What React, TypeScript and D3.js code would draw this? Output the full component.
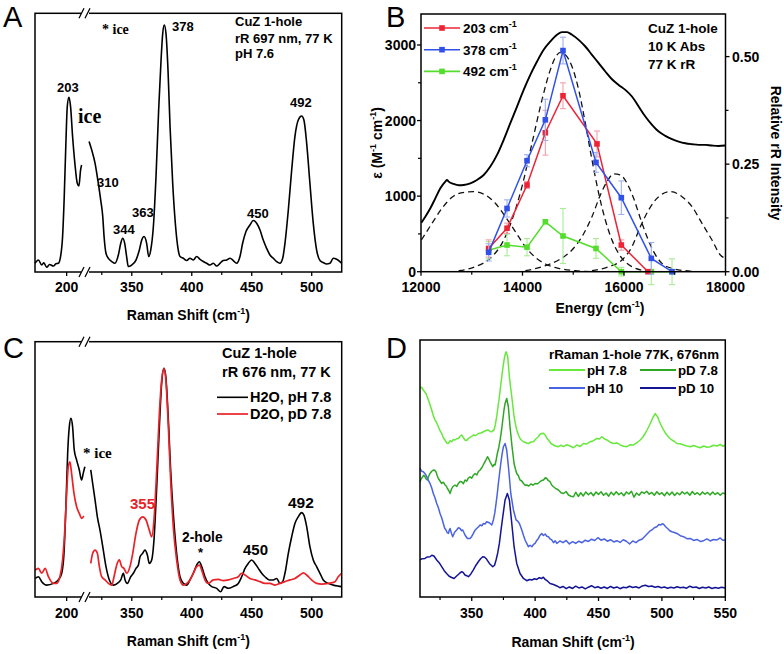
import * as d3 from 'd3'

type Pt = [number, number]

const SANS = '"Liberation Sans", Arial, sans-serif'
const SERIF = '"Liberation Serif", "Times New Roman", serif'

// ---------- Panel A: CuZ 1-hole, rR 697 nm (shift cm-1, intensity a.u.)
const aLow: Pt[] = [[175,4],[177.7,5.3],[180.3,3.3],[182,4.2],[184.2,2.4],[186.5,3.5],[189.5,2.9],[191.5,3.8],[193.4,4],[195.2,6.7],[196.8,14.7],[198.1,30.7],[199.4,52],[200.5,66.7],[201.8,70.4],[203.1,66.7],[204.7,54.7],[206.5,44],[208.4,36],[209.7,34.9],[211,41.3],[211.8,43.3]]
const aHigh: Pt[] = [[314.4,52.7],[316.6,49.3],[319.4,44],[322.1,36],[324.1,29.3],[325.8,22.7],[326.9,14.7],[328.5,8],[330.5,6],[333.3,4.7],[336,4],[338.8,7.3],[340.8,12],[342.4,14],[344.1,12],[345.7,6.7],[347.1,2.7],[349.9,3.3],[353.5,5.3],[356.3,9.3],[358.3,13.3],[360.2,14.7],[362.4,12],[364.1,6.7],[365.8,9.3],[368,18.7],[370.2,38.7],[372.4,65.3],[374.4,85.3],[375.8,96],[377.1,99.3],[378.5,96],[380.2,81.3],[381.9,58.7],[384.1,36],[386.3,20],[388.3,10.7],[390.2,6.7],[393,6],[395.8,5.1],[398.5,6],[401.3,5.3],[404.1,6.7],[406.9,5.6],[409.6,4.7],[412.4,4],[415.2,3.3],[418,4],[420.8,2.9],[423.5,4],[426.3,5.1],[429.1,5.3],[431.9,6],[434.6,5.1],[437.4,4],[440.2,6.7],[442.4,12],[445.2,16.7],[448.5,19.3],[451.3,21.1],[454.1,20],[456.9,17.3],[459.6,13.3],[462.4,10],[465.2,7.3],[468,6],[470.7,4.7],[473.5,4],[475.8,6],[477.7,12],[480.5,25.3],[483.3,41.3],[486,54.7],[488.8,61.3],[491.6,62.9],[493.5,61.3],[495.8,52],[498.5,36],[501.3,20],[504.1,9.3],[506.9,5.1],[509.6,4.3],[512.4,3.7],[515.2,4],[518,6],[520.8,5.6],[523.5,4.7],[525,4]]

// ---------- Panel C: H2O vs D2O, rR 676 nm
const cH2OLow: Pt[] = [[175.1,7.4],[177.7,8.1],[180.3,6.1],[184.2,4.7],[189.5,5.4],[193.4,6.8],[196.1,9.5],[197.9,17.6],[199.5,37.8],[200.8,58.1],[202.1,68.9],[203.4,72.3],[204.7,68.9],[206,59.5],[207.9,55.4],[210,51.4],[211.8,47.3],[213.1,50],[214.4,52.7]]
const cH2OHigh: Pt[] = [[315.8,51.4],[317.4,45.9],[319.4,39.2],[321.3,32.4],[323.5,27],[325.8,20.3],[328.5,12.2],[331.3,6.8],[334.6,4.7],[338,5.4],[340.8,6.8],[343,9.5],[344.4,6.8],[346.3,5.4],[349.1,8.1],[351.3,9.5],[353.5,11.5],[355.5,12.8],[356.9,16.2],[359.1,17.6],[361,18.9],[363,16.9],[364.6,13.5],[366.6,14.9],[368.5,23],[370.8,44.6],[373,68.9],[374.9,86.5],[376.9,92.6],[378.5,88.5],[380.5,71.6],[382.4,51.4],[384.6,33.8],[387.4,17.6],[390.2,8.1],[393,5.4],[395.8,4.7],[398.5,6.8],[401.3,9.5],[404.1,12.8],[406.3,14.2],[408.3,12.2],[411,8.1],[413.8,5.4],[416.6,4.1],[420.8,3.4],[424.1,2],[426.9,4.1],[430.5,3.4],[434.6,4.1],[438.8,5.4],[441.6,8.1],[444.4,11.5],[447.1,13.5],[449.9,14.9],[452.7,13.5],[455.5,11.5],[458.3,9.5],[461,8.1],[464.6,6.8],[468,6.8],[470.8,7.4],[473.5,5.4],[475.8,6.1],[477.7,9.5],[480.5,17.6],[483.3,24.3],[486,29.7],[488.8,32.4],[491.6,34.1],[493.5,33.1],[495.8,28.4],[498.5,20.3],[501.3,14.9],[504.1,12.2],[506.9,9.5],[509.6,6.8],[513.8,5.4],[518,4.7],[522.1,4.3],[524.9,4.1]]
const cD2OLow: Pt[] = [[175.1,10.8],[177.7,11.5],[180.3,9.5],[183,11.5],[185.6,8.1],[189.5,5.4],[192.1,5.4],[194.7,8.1],[196.8,14.9],[198.7,28.4],[200,41.9],[201.3,52.7],[202.6,54.7],[203.9,50],[205.8,41.9],[207.9,36.5],[210,33.8],[211.8,31.8],[213.6,32.7]]
const cD2OHigh: Pt[] = [[315.8,13.5],[317.4,17.6],[319.4,18.9],[321.3,17.6],[323,12.2],[324.9,8.1],[327.7,6.8],[330.5,5.4],[333.3,4.7],[335.2,8.1],[337.4,12.8],[339.6,14.9],[341.6,12.2],[343.5,11.5],[345.8,9.5],[348.5,12.2],[350.8,17.6],[353.5,25.7],[356.3,31.1],[359.1,32.4],[361.9,31.1],[364.6,27],[366.6,24.3],[368.5,31.1],[370.8,51.4],[373,74.3],[374.9,87.8],[376.9,92.6],[378.5,87.2],[380.5,68.9],[382.4,47.3],[384.6,28.4],[387.4,14.9],[390.2,6.8],[393,4.7],[395.8,5.4],[398.5,6.8],[401.3,9.5],[404.1,12.2],[406.3,12.8],[408.3,10.8],[411,6.8],[413.8,5.4],[418,6.8],[422.1,7],[426.3,6.5],[430.5,6.8],[434.6,7.4],[438.8,8.1],[441.6,9.5],[444.4,8.8],[448.5,7.4],[452.7,6.8],[456.9,6.1],[461,5.4],[465.2,5.4],[469.4,4.7],[473.5,5.4],[477.7,6.1],[481.9,6.8],[486,7.4],[490.2,8.8],[493,9.7],[495.8,8.8],[499.9,6.8],[504.1,5.4],[508.3,5.1],[513.8,5.4],[519.4,6.1],[522.1,8.1],[524.9,9.5]]

// ---------- Panel D: rRaman 1-hole 77K, 676nm (offset traces)
const dH78: Pt[] = [[309.2,83.3],[310.5,83.8],[311.8,82.7],[313.9,81.3],[315.8,78.7],[317.1,76.8],[318.4,74.7],[319.7,72.5],[321,70.7],[322.4,69.5],[323.7,68],[325,66.4],[326.3,65.3],[327.6,63.6],[328.9,62.7],[330.2,61.5],[331.6,61.3],[332.9,62.4],[334.2,62],[335.5,62.9],[336.8,62.7],[338.1,63.2],[339.5,63.3],[340.8,64.2],[342.1,64.7],[343.4,63.6],[344.7,62.7],[346,62.5],[347.4,63.3],[349.3,63.9],[351.3,64.7],[353.2,64.5],[355.2,65.3],[357.2,65.5],[359.2,66],[361.1,66.5],[363.1,66.7],[364.5,66.1],[365.8,66],[366.7,66.5],[367.6,66.7],[368.6,68.8],[369.7,72],[370.7,75.9],[371.8,80],[372.8,84.3],[373.7,88],[374.6,91.6],[375.5,94.7],[376.3,96.8],[377.1,98],[378.4,96],[379.7,88],[380.6,84],[381.6,80],[382.5,76],[383.4,72],[384.5,69],[385.5,66.7],[386.8,64.8],[388.1,63.3],[389.5,62.5],[390.8,62],[392.8,61.6],[394.7,61.3],[396.7,61.9],[398.7,62],[400.7,63.2],[402.6,64],[403.9,65],[405.2,65.3],[406.5,65.4],[407.9,64.7],[409.2,63.5],[410.5,62.7],[412.5,61.3],[414.5,60.7],[416.5,60.2],[418.4,60],[420.4,60.6],[422.4,60],[425,60.8],[427.6,60.3],[430.2,59.6],[432.9,60.7],[435.5,60.1],[438.1,61.3],[440.8,61.1],[443.4,62],[446,62.4],[448.7,63.3],[450.6,63.1],[452.6,64],[454.6,63.2],[456.6,62.7],[459.2,61.8],[461.8,61.3],[464.5,61.5],[467.1,60.7],[469.8,60.2],[472.4,60],[475,60.8],[477.6,60.7],[480.3,61.6],[482.9,62.7],[484.9,63.8],[486.8,65.3],[488.6,67],[490.3,68.7],[491.6,70.2],[492.9,71.7],[493.8,72.4],[494.7,73.3],[495.6,72.6],[496.6,72],[497.6,70.6],[498.7,69.3],[500,68],[501.3,66.7],[502.6,65.6],[503.9,64.7],[505.9,63.5],[507.9,62.7],[509.9,62.1],[511.8,61.3],[514.5,61.2],[517.1,60.7],[519.8,60.3],[522.4,60],[525,60.5],[527.6,60],[530.3,59.6],[532.9,60.3],[535.5,59.8],[538.1,60],[540.7,60.6],[543.4,60.3],[546,60.9],[548,60.2],[550,60.7]]
const dD78: Pt[] = [[309.2,46],[310.2,47.2],[311.3,48],[312.2,48.6],[313.1,48],[314,47.1],[315,46.7],[316,48.2],[317.1,49.3],[318.4,50.2],[319.7,50.7],[320.8,50.6],[321.8,50],[322.8,48.4],[323.7,47.3],[325,46.3],[326.3,45.3],[327.6,45.8],[328.9,44.7],[329.9,44.3],[330.8,43.3],[331.9,42.5],[332.9,41.3],[334,43],[335,44],[336.8,44.7],[338.2,44.1],[339.5,45.3],[340.8,46.1],[342.1,46],[343.4,45.2],[344.7,46.7],[346,46.2],[347.4,47.5],[348.7,48],[350,47.4],[351.3,48.6],[352.6,49.3],[354,48.7],[355.3,50.1],[356.6,50.7],[358.2,51.8],[359.7,53.3],[361,54.5],[362.4,56],[363.4,55.2],[364.5,54],[365.6,52.9],[366.6,52],[367.5,52.9],[368.4,52.7],[369.3,54.8],[370.2,57.3],[371.3,59.6],[372.4,62.7],[373.5,66.5],[374.5,70.7],[375.4,74.5],[376.3,77.3],[377.6,79.3],[378.9,76],[380.2,68],[381.8,60],[383.4,53.3],[384.5,51],[385.5,49.3],[386.8,48.4],[388.1,46.7],[389.5,46.3],[390.8,45.3],[392.1,44.6],[393.4,44.7],[395,44.3],[396.6,45.1],[398.3,44.6],[400,45.3],[402,45.2],[403.9,46],[405.3,46.5],[406.6,46.7],[408,47.6],[409.2,47.3],[410.5,46.4],[411.8,46],[413.2,44.6],[414.5,44],[416.5,43.2],[418.4,42.7],[420.4,41.6],[422.4,41.3],[424.4,42.1],[426.3,40.7],[428.3,40.2],[430.3,40],[432,41.8],[434,40.1],[436,41.6],[438,40.3],[440,41.9],[442,40.8],[444,41.7],[446,40.4],[448,41.9],[450,40.9],[452,42],[454,40.6],[456,41.5],[458,40.2],[460,41.8],[462,40.7],[464,42],[466,40.8],[468,41.6],[470,40.4],[472,41.9],[474,41.1],[476,42.2],[478,39.8],[480,41.5],[482,40.6],[484,41.9],[486,41.3],[488,42.2],[490,41],[492,41.7],[494,40.6],[496,42],[498,40.9],[500,41.6],[502,40.4],[504,41.8],[506,40.7],[508,41.9],[510,40.5],[512,41.6],[514,40.8],[516,42],[518,41.1],[520,41.8],[522,40.6],[524,42.1],[526,40.9],[528,41.6],[530,40.7],[532,41.9],[534,41],[536,41.7],[538,40.7],[540,41.9],[542,40.9],[544,41.6],[546,40.6],[548,41.5],[550,41.2]]
const dH10: Pt[] = [[309.2,51.3],[310.5,50.2],[311.8,50],[313.2,49.2],[314.5,48],[315.8,46.5],[317.1,45.3],[318.4,43.6],[319.7,41.3],[321,39.6],[322.4,37.3],[323.7,35.6],[325,33.3],[326.3,31.6],[327.6,29.3],[328.7,27.4],[329.7,26.7],[330.7,25.6],[331.6,25.3],[332.2,26.5],[332.9,27.3],[334,25.4],[335,24],[336.5,25.8],[338.1,26.7],[339.5,27.6],[340.8,27.3],[342,26.4],[342.9,26.7],[344.7,24.7],[346.6,23.3],[348.7,23.3],[350,24.1],[351.3,25.3],[352.6,26.6],[353.9,27.3],[355.2,27.9],[356.6,28.7],[358,28.4],[359.2,29.3],[360.5,29.1],[361.8,30],[363.9,29.6],[365.8,28.7],[367.1,30.7],[368.2,33.5],[369.2,37.3],[370.1,41],[371,45.3],[372,49.5],[372.9,53.3],[374,57.2],[375,60],[376.3,61.3],[377.6,58.7],[379.2,50.7],[380.8,41.3],[382.9,34.7],[385,30.7],[386.3,30.2],[387.6,29.3],[389.5,26.7],[390.8,24.6],[392.1,22.7],[393.4,21.3],[394.7,20],[396,20.6],[397.4,20],[398.7,20.9],[400,21.3],[401.3,22.5],[402.6,23.3],[403.9,24.6],[405.2,25.3],[406.5,24.5],[407.9,25.1],[409.2,24.2],[410.5,24],[411.8,23.1],[413.1,22.7],[414.5,21.6],[415.8,22.4],[417.1,21.3],[419.5,22.3],[422,21.6],[424.5,22.5],[427,21.1],[429.5,22],[432,21.3],[434.5,22.2],[437,21.6],[439.5,22.6],[442,22.1],[444.5,23],[447,22.5],[449.5,23.6],[452,22.6],[454.5,23.1],[457,22.2],[459.5,22.8],[462,21.9],[464.5,22.4],[467,21.7],[469.5,22.8],[472,22.2],[474.5,21.1],[477,22.3],[479.5,21.6],[482,22.6],[484.5,23.1],[486.8,24.3],[488.7,25.3],[490.4,26.2],[492.1,26.7],[494,27.6],[496,28],[497.6,28.9],[499.2,28.7],[500.5,29.2],[501.8,28.7],[503.1,27.9],[504.5,27.3],[506.2,26.4],[507.9,26],[509.8,25.7],[511.8,25.3],[514.5,24.4],[517.1,24],[519.7,23.2],[522.4,23.3],[525,22.5],[527.6,22.9],[530.3,22.1],[532.9,22.4],[535.5,23.1],[538.1,22.3],[540.7,22.9],[543.4,22.7],[546,23.5],[548,22.6],[550,22.7]]
const dD10: Pt[] = [[309.2,14.7],[311,15.2],[313.1,15.3],[315,15.9],[317.1,16],[318.5,16.6],[320.2,16.3],[322.4,14.7],[324.3,13.6],[326.3,12],[328.3,10.4],[330.2,9.3],[332.2,8.2],[334.2,7.7],[336.1,7.3],[338.1,8.3],[340.1,9.2],[342.1,10],[343.4,9.6],[344.7,8.7],[346,8.4],[347.4,8],[349.3,9.1],[351.3,10.7],[353.2,12.5],[355.2,14],[357,15.2],[358.7,16],[360,15.9],[361.3,15.3],[363.9,13.3],[366.6,12],[368,12.6],[369.2,14.7],[370.5,17.5],[371.8,21.3],[373.2,27],[374.5,32],[376.3,38.7],[378.1,41.3],[379.7,38.7],[381.6,29.3],[383.4,20],[385.5,13.3],[388.1,9.3],[390.8,7.3],[393.4,6.4],[395.5,6.9],[397.4,6.7],[399.5,7.2],[401.3,6.9],[403.3,7.6],[405.2,7.3],[406.5,7.8],[407.9,6.9],[409.9,6.2],[411.8,5.3],[414.5,4.9],[417.1,4.3],[419.5,3.6],[422,4.1],[424.5,3.2],[427,3.9],[429.5,3.3],[432,4.2],[434.5,3.5],[437,3.9],[439.5,3.1],[442,3.8],[444.5,4.4],[447,3.6],[449.5,4],[452,3.4],[454.5,3.9],[457,3.3],[459.5,4.1],[462,3.5],[464.5,3.9],[467,3.2],[469.5,3.8],[472,3.6],[474.5,4.2],[477,3.7],[479.5,4],[482,3.5],[484.5,4.3],[487,4.6],[489.5,4.1],[492,4.3],[494.5,3.8],[497,4.1],[499.5,3.6],[502,3.9],[504.5,3.4],[507,3.8],[509.5,3.5],[512,4],[514.5,3.6],[517,3.8],[519.5,3.4],[522,4.2],[524.5,3.7],[527,3.9],[529.5,3.3],[532,3.8],[534.5,3.5],[537,3.9],[539.5,3.3],[542,3.7],[544.5,3.4],[547,3.8],[550,3.5]]

// ---------- Panel B: absorption (eps) + Gaussian components, rR profiles (right axis)
const bAbs: Pt[] = [[12007,649],[12085,728],[12184,839],[12282,971],[12381,1104],[12479,1192],[12512,1214],[12545,1192],[12644,1161],[12742,1144],[12841,1148],[12972,1170],[13103,1214],[13235,1280],[13366,1391],[13498,1545],[13629,1744],[13760,1965],[13892,2185],[14023,2406],[14154,2605],[14286,2781],[14417,2936],[14548,3046],[14680,3135],[14778,3170],[14877,3170],[14975,3135],[15107,3068],[15238,2980],[15369,2870],[15501,2759],[15632,2649],[15763,2547],[15895,2472],[16026,2406],[16157,2318],[16289,2185],[16420,2053],[16552,1943],[16683,1854],[16814,1797],[16946,1753],[17077,1722],[17208,1700],[17340,1687],[17471,1678],[17602,1678],[17734,1669],[17865,1664],[17996,1669]]
const bBand1: Pt[] = [[12007,419],[12217,640],[12414,839],[12611,985],[12808,1046],[13038,1060],[13268,1015],[13465,905],[13662,728],[13859,530],[14056,331],[14253,190],[14450,102],[14713,44],[15041,13],[15369,0]]
const bBand2: Pt[] = [[12742,13],[13071,66],[13399,199],[13596,375],[13793,684],[13990,1126],[14187,1700],[14384,2274],[14548,2671],[14680,2870],[14745,2901],[14844,2870],[14975,2715],[15107,2406],[15238,1965],[15369,1479],[15501,1038],[15632,684],[15763,419],[15960,177],[16157,66],[16420,13],[16683,0]]
const bBand3: Pt[] = [[14056,13],[14384,66],[14713,155],[14975,287],[15172,464],[15369,728],[15534,1015],[15665,1192],[15796,1294],[15928,1280],[16059,1170],[16190,971],[16322,706],[16453,464],[16584,265],[16749,110],[16946,44],[17208,13],[17471,0]]
const bBand4: Pt[] = [[15369,13],[15698,66],[15960,155],[16157,331],[16322,596],[16486,817],[16683,993],[16913,1060],[17143,993],[17340,861],[17537,640],[17734,419],[17898,221],[17996,177]]

const e203 = [13333, 13695, 14089, 14450, 14798, 15468, 15947, 16473]
const v203 = [0.054, 0.101, 0.2015, 0.323, 0.409, 0.297, 0.062, 0]
const err203 = [0.02, 0.012, 0.008, 0.052, 0.03, 0.03, 0.012, 0]
const e378 = [13333, 13695, 14089, 14450, 14798, 15448, 15947, 16538, 16946]
const v378 = [0.045, 0.147, 0.258, 0.353, 0.514, 0.254, 0.172, 0.031, 0]
const err378 = [0.02, 0.02, 0.014, 0.048, 0.031, 0.023, 0.039, 0.037, 0]
const e492 = [13333, 13695, 14089, 14450, 14798, 15448, 15947, 16538, 16946]
const v492 = [0.05, 0.062, 0.057, 0.116, 0.083, 0.054, 0, 0, 0]
const err492 = [0.02, 0.025, 0.02, 0, 0.064, 0.023, 0.01, 0.03, 0.03]

const bSeries = [
  { name: '492', e: e492, v: v492, err: err492, color: '#55dd2e', errColor: '#a8ec96' },
  { name: '203', e: e203, v: v203, err: err203, color: '#ee2436', errColor: '#f2a0aa' },
  { name: '378', e: e378, v: v378, err: err378, color: '#3150ea', errColor: '#9fb0f0' },
]
const bLegend = [
  { name: '203', color: '#ee2436' },
  { name: '378', color: '#3150ea' },
  { name: '492', color: '#55dd2e' },
]

const dTraces = [
  { name: 'pH 7.8', data: dH78, color: '#66e83c' },
  { name: 'pD 7.8', data: dD78, color: '#2ea824' },
  { name: 'pH 10', data: dH10, color: '#4a63e0' },
  { name: 'pD 10', data: dD10, color: '#141496' },
]

const AX = { stroke: '#000', strokeWidth: 1.5, fill: 'none' }
const TICK_FONT = { fontFamily: SANS, fontWeight: 700 }

function Inv() {
  return (
    <>
      <tspan fontSize="9" dy="-6">-1</tspan>
      <tspan dy="6">)</tspan>
    </>
  )
}

function BreakMark({ x, y }: { x: number; y: number }) {
  return (
    <g>
      <rect x={x - 4} y={y - 2} width={8} height={4} fill="#fff" />
      <line x1={x - 6} y1={y + 5} x2={x - 1} y2={y - 5} stroke="#000" strokeWidth={1.3} />
      <line x1={x} y1={y + 5} x2={x + 5} y2={y - 5} stroke="#000" strokeWidth={1.3} />
    </g>
  )
}

// shared frame for the two broken-axis panels (A and C)
function BrokenFrame({ top, bottom, xL, xR, labelY, titleY }: any) {
  const brk = xL.range()[1]
  const left = xL.range()[0]
  const right = xR.range()[1]
  const major = [350, 400, 450, 500]
  const minor = [325, 375, 425, 475]
  return (
    <g>
      <rect x={left} y={top} width={right - left} height={bottom - top} {...AX} />
      <BreakMark x={brk} y={top} />
      <BreakMark x={brk} y={bottom} />
      <line x1={xL(200)} x2={xL(200)} y1={bottom} y2={bottom + 4} stroke="#000" strokeWidth={1.3} />
      <text x={xL(200)} y={labelY} textAnchor="middle" fontSize={14} {...TICK_FONT}>200</text>
      {major.map(t => (
        <g key={t}>
          <line x1={xR(t)} x2={xR(t)} y1={bottom} y2={bottom + 4} stroke="#000" strokeWidth={1.3} />
          <text x={xR(t)} y={labelY} textAnchor="middle" fontSize={14} {...TICK_FONT}>{t}</text>
        </g>
      ))}
      {minor.map(t => (
        <line key={t} x1={xR(t)} x2={xR(t)} y1={bottom} y2={bottom + 3} stroke="#000" strokeWidth={1.2} />
      ))}
      <text x={(left + right) / 2} y={titleY} textAnchor="middle" fontSize={14} {...TICK_FONT}>
        Raman Shift (cm<Inv />
      </text>
    </g>
  )
}

function PanelA() {
  const xL = d3.scaleLinear().domain([175, 214.5]).range([35, 85])
  const xR = d3.scaleLinear().domain([311, 525]).range([85, 341.7])
  const y = d3.scaleLinear().domain([0, 104]).range([273.3, 13.3])
  const lnL = d3.line<Pt>().x(d => xL(d[0])).y(d => y(d[1])).curve(d3.curveMonotoneX)
  const lnR = d3.line<Pt>().x(d => xR(d[0])).y(d => y(d[1])).curve(d3.curveMonotoneX)
  const lab = { fontFamily: SANS, fontWeight: 700, fontSize: 13 }
  return (
    <g>
      <path d={lnL(aLow)!} fill="none" stroke="#000" strokeWidth={1.6} />
      <path d={lnR(aHigh)!} fill="none" stroke="#000" strokeWidth={1.6} />
      <BrokenFrame top={13.3} bottom={272} xL={xL} xR={xR} labelY={292} titleY={320} />
      <text x={3} y={27} fontFamily={SANS} fontSize={29}>A</text>
      <text x={102} y={34} fontFamily={SERIF} fontWeight={700} fontSize={14}>* ice</text>
      <text x={172} y={31} {...lab}>378</text>
      <text x={235} y={26} {...lab}>CuZ 1-hole</text>
      <text x={235} y={43} {...lab}>rR 697 nm, 77 K</text>
      <text x={235} y={58} {...lab}>pH 7.6</text>
      <text x={57} y={91.5} {...lab}>203</text>
      <text x={78} y={123} fontFamily={SERIF} fontWeight={700} fontSize={20}>ice</text>
      <text x={97} y={186.5} {...lab}>310</text>
      <text x={132} y={216.5} {...lab}>363</text>
      <text x={113} y={233.5} {...lab}>344</text>
      <text x={247} y={217.5} {...lab}>450</text>
      <text x={290} y={106.5} {...lab}>492</text>
    </g>
  )
}

function PanelC() {
  const xL = d3.scaleLinear().domain([175, 214.5]).range([35, 85])
  const xR = d3.scaleLinear().domain([311, 525]).range([85, 341.7])
  const y = d3.scaleLinear().domain([0, 103.4]).range([596.7, 341.7])
  const lnL = d3.line<Pt>().x(d => xL(d[0])).y(d => y(d[1])).curve(d3.curveMonotoneX)
  const lnR = d3.line<Pt>().x(d => xR(d[0])).y(d => y(d[1])).curve(d3.curveMonotoneX)
  const red = '#ea2228'
  const lab = { fontFamily: SANS, fontWeight: 700, fontSize: 14.5 }
  return (
    <g>
      <path d={lnL(cH2OLow)!} fill="none" stroke="#000" strokeWidth={1.6} />
      <path d={lnR(cH2OHigh)!} fill="none" stroke="#000" strokeWidth={1.6} />
      <path d={lnL(cD2OLow)!} fill="none" stroke={red} strokeWidth={1.7} />
      <path d={lnR(cD2OHigh)!} fill="none" stroke={red} strokeWidth={1.7} />
      <BrokenFrame top={341.7} bottom={597} xL={xL} xR={xR} labelY={618} titleY={646} />
      <text x={3} y={358} fontFamily={SANS} fontSize={29}>C</text>
      <text x={222} y={358} {...lab}>CuZ 1-hole</text>
      <text x={222} y={377} {...lab}>rR 676 nm, 77 K</text>
      <line x1={217} x2={248} y1={397.3} y2={397.3} stroke="#000" strokeWidth={1.6} />
      <text x={250} y={402} {...lab}>H2O, pH 7.8</text>
      <line x1={217} x2={248} y1={414} y2={414} stroke={red} strokeWidth={1.7} />
      <text x={250} y={419} {...lab}>D2O, pD 7.8</text>
      <text x={83} y={458} fontFamily={SERIF} fontWeight={700} fontSize={15}>* ice</text>
      <text x={130} y={508.5} {...lab} fontSize={15} fill={red}>355</text>
      <text x={288} y={507.5} {...lab} fontSize={15.5}>492</text>
      <text x={182} y={542} {...lab} fontSize={13.8}>2-hole</text>
      <text x={198} y={557} {...lab} fontSize={13}>*</text>
      <text x={243} y={554.5} {...lab} fontSize={15}>450</text>
    </g>
  )
}

function PanelD() {
  const x = d3.scaleLinear().domain([309.2, 550]).range([420, 725.3])
  const y = d3.scaleLinear().domain([0, 102.7]).range([596.7, 340])
  const ln = d3.line<Pt>().x(d => x(d[0])).y(d => y(d[1]))
  const lab = { fontFamily: SANS, fontWeight: 700, fontSize: 13.3 }
  const major = [350, 400, 450, 500, 550]
  const minor = [325, 375, 425, 475, 525]
  return (
    <g>
      {dTraces.map(t => (
        <path key={t.name} d={ln(t.data)!} fill="none" stroke={t.color} strokeWidth={1.5} strokeLinejoin="round" />
      ))}
      <rect x={420} y={340} width={305.3} height={257} {...AX} />
      {major.map(t => (
        <g key={t}>
          <line x1={x(t)} x2={x(t)} y1={597} y2={601} stroke="#000" strokeWidth={1.3} />
          <text x={x(t)} y={618} textAnchor="middle" fontSize={14} {...TICK_FONT}>{t}</text>
        </g>
      ))}
      {minor.map(t => (
        <line key={t} x1={x(t)} x2={x(t)} y1={597} y2={600} stroke="#000" strokeWidth={1.2} />
      ))}
      <text x={573} y={647} textAnchor="middle" fontSize={14} {...TICK_FONT}>Raman Shift (cm<Inv /></text>
      <text x={386} y={358} fontFamily={SANS} fontSize={29}>D</text>
      <text x={549} y={358.5} {...lab}>rRaman 1-hole 77K, 676nm</text>
      {dTraces.map((t, i) => {
        const col = i % 2
        const row = Math.floor(i / 2)
        const lx = col === 0 ? 549 : 640
        const ly = 370 + row * 18
        return (
          <g key={t.name}>
            <line x1={lx} x2={lx + 36} y1={ly} y2={ly} stroke={t.color} strokeWidth={1.8} />
            <text x={lx + 38} y={ly + 4.5} {...lab}>{t.name}</text>
          </g>
        )
      })}
    </g>
  )
}

function PanelB() {
  const x = d3.scaleLinear().domain([12000, 18000]).range([421, 725.5])
  const yL = d3.scaleLinear().domain([0, 3410]).range([271.7, 14])
  const yR = d3.scaleLinear().domain([0, 0.599]).range([271.7, 14])
  const lnL = d3.line<Pt>().x(d => x(d[0])).y(d => yL(d[1])).curve(d3.curveMonotoneX)
  const lab = { fontFamily: SANS, fontWeight: 700, fontSize: 13.5 }
  const bands = [bBand1, bBand2, bBand3, bBand4]
  return (
    <g>
      <defs>
        <clipPath id="bclip"><rect x={421} y={14} width={304.5} height={258} /></clipPath>
      </defs>
      <g clipPath="url(#bclip)">
        {bands.map((b, i) => (
          <path key={i} d={lnL(b)!} fill="none" stroke="#111" strokeWidth={1.3} strokeDasharray="6,4" />
        ))}
        <path d={lnL(bAbs)!} fill="none" stroke="#000" strokeWidth={1.9} />
      </g>
      {bSeries.map(s => {
        const pts = s.e.map((e, i) => [e, s.v[i]] as Pt)
        const ln = d3.line<Pt>().x(d => x(d[0])).y(d => yR(d[1]))
        return (
          <g key={s.name}>
            {pts.map((p, i) => s.err[i] > 0 && (
              <g key={i} stroke={s.errColor} strokeWidth={1.1}>
                <line x1={x(p[0])} x2={x(p[0])} y1={yR(p[1] - s.err[i])} y2={yR(p[1] + s.err[i])} />
                <line x1={x(p[0]) - 3} x2={x(p[0]) + 3} y1={yR(p[1] - s.err[i])} y2={yR(p[1] - s.err[i])} />
                <line x1={x(p[0]) - 3} x2={x(p[0]) + 3} y1={yR(p[1] + s.err[i])} y2={yR(p[1] + s.err[i])} />
              </g>
            ))}
            <path d={ln(pts)!} fill="none" stroke={s.color} strokeWidth={1.5} />
            {pts.map((p, i) => (
              <rect key={i} x={x(p[0]) - 2.8} y={yR(p[1]) - 2.8} width={5.6} height={5.6} fill={s.color} />
            ))}
          </g>
        )
      })}
      <rect x={421} y={14} width={304.5} height={257.7} {...AX} />
      {[12000, 14000, 16000, 18000].map(t => (
        <g key={t}>
          <line x1={x(t)} x2={x(t)} y1={271.7} y2={275.7} stroke="#000" strokeWidth={1.3} />
          <text x={x(t)} y={292} textAnchor="middle" fontSize={14} {...TICK_FONT}>{t}</text>
        </g>
      ))}
      {[13000, 15000, 17000].map(t => (
        <line key={t} x1={x(t)} x2={x(t)} y1={271.7} y2={274.7} stroke="#000" strokeWidth={1.2} />
      ))}
      {[0, 1000, 2000, 3000].map(t => (
        <g key={t}>
          <line x1={421} x2={417} y1={yL(t)} y2={yL(t)} stroke="#000" strokeWidth={1.3} />
          <text x={416} y={yL(t) + 5} textAnchor="end" fontSize={14} {...TICK_FONT}>{t}</text>
        </g>
      ))}
      {[500, 1500, 2500].map(t => (
        <line key={t} x1={421} x2={418} y1={yL(t)} y2={yL(t)} stroke="#000" strokeWidth={1.2} />
      ))}
      {[0, 0.25, 0.5].map(t => (
        <g key={t}>
          <line x1={725.5} x2={729.5} y1={yR(t)} y2={yR(t)} stroke="#000" strokeWidth={1.3} />
          <text x={732} y={yR(t) + 5} fontSize={14} {...TICK_FONT}>{t.toFixed(2)}</text>
        </g>
      ))}
      {[0.125, 0.375].map(t => (
        <line key={t} x1={725.5} x2={728.5} y1={yR(t)} y2={yR(t)} stroke="#000" strokeWidth={1.2} />
      ))}
      <text x={600} y={313} textAnchor="middle" fontSize={14} {...TICK_FONT}>Energy (cm<Inv /></text>
      <text transform="translate(382,143) rotate(-90)" textAnchor="middle" fontSize={14} {...TICK_FONT}>
        ε (M<tspan fontSize="9" dy="-6">-1</tspan><tspan dy="6"> cm</tspan><Inv />
      </text>
      <text transform="translate(771,153) rotate(90)" textAnchor="middle" fontSize={14} {...TICK_FONT}>
        Relative rR Intensity
      </text>
      <text x={386} y={27} fontFamily={SANS} fontSize={29}>B</text>
      {bLegend.map((s, i) => (
        <g key={s.name}>
          <line x1={424} x2={460} y1={28 + i * 21.7} y2={28 + i * 21.7} stroke={s.color} strokeWidth={1.6} />
          <rect x={439.2} y={25.2 + i * 21.7} width={5.6} height={5.6} fill={s.color} />
          <text x={463} y={33 + i * 21.7} {...lab}>{s.name} cm<tspan fontSize="9" dy="-6">-1</tspan></text>
        </g>
      ))}
      <text x={648} y={33} {...lab}>CuZ 1-hole</text>
      <text x={648} y={51} {...lab}>10 K Abs</text>
      <text x={648} y={69} {...lab}>77 K rR</text>
    </g>
  )
}

export default function App() {
  return (
    <svg width={784} height={654} viewBox="0 0 784 654"
      style={{ position: 'absolute', left: 0, top: 0, background: '#fff' }}>
      <PanelA />
      <PanelB />
      <PanelC />
      <PanelD />
    </svg>
  )
}
